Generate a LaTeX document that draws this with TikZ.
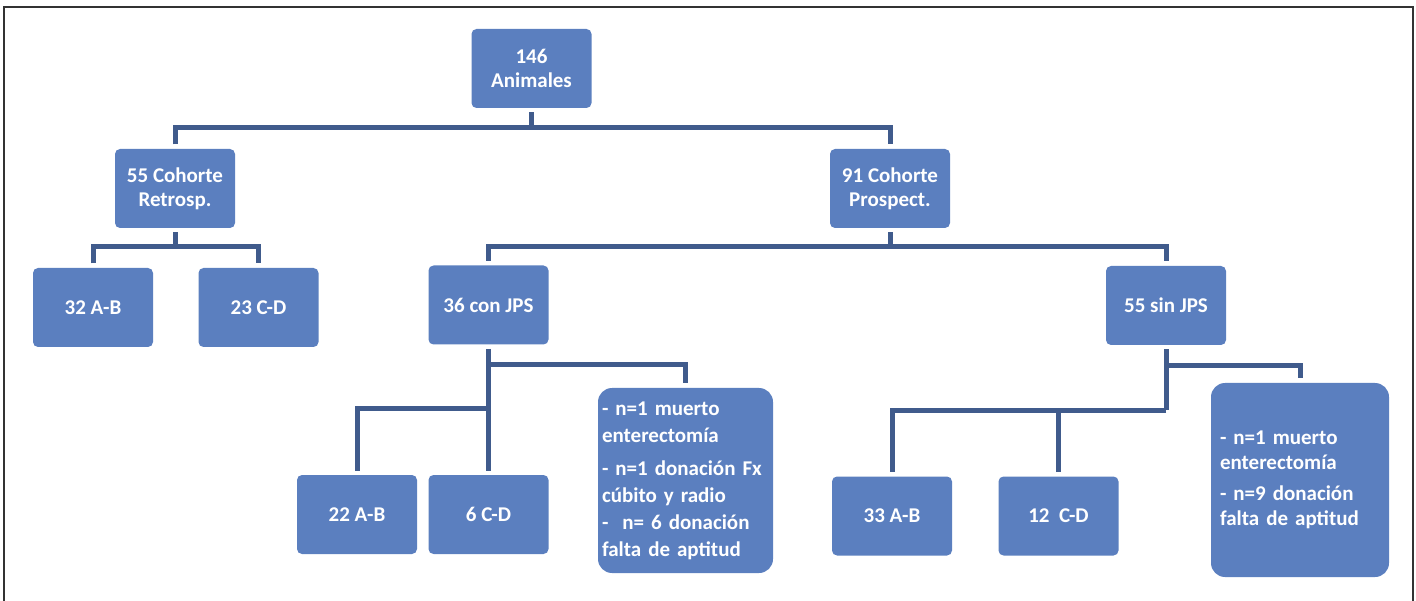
\documentclass[tikz,border=0pt]{standalone}
\usepackage{fontspec}
\setmainfont{Carlito}
\definecolor{boxblue}{HTML}{5B7FBF}
\definecolor{connblue}{HTML}{405B8C}
\definecolor{framegray}{HTML}{333333}
\begin{document}
\begin{tikzpicture}[x=1pt,y=-1pt,
  box/.style={fill=boxblue, rounded corners=5pt, text=white,
    font=\fontsize{21}{24}\selectfont\bfseries, align=center,
    minimum width=120pt, minimum height=79pt, inner sep=2pt, outer sep=4.5pt},
  note/.style={box, rounded corners=14pt, align=left,
    font=\fontsize{21}{27}\selectfont\bfseries},
  conn/.style={draw=connblue, line width=5pt, line join=miter}]
\useasboundingbox (0,0) rectangle (1416,601);
\draw[line width=1.3pt, draw=framegray] (4,602) -- (4,7) -- (1413,7) -- (1413,602);

% nodes
\node[box] (root) at (531.5,68.5) {146\\Animales};
\node[box] (retro) at (175,188.5) {55 Cohorte\\Retrosp.};
\node[box] (prosp) at (890,188.5) {91 Cohorte\\Prospect.};
\node[box] (ab1) at (93,307.5) {32 A-B};
\node[box] (cd1) at (258.5,307.5) {23 C-D};
\node[box] (con) at (488.5,305) {36 con JPS};
\node[box] (sin) at (1166,305.5) {55 sin JPS};
\node[box] (ab2) at (357,514.5) {22 A-B};
\node[box] (cd2) at (488.5,514.5) {6 C-D};
\node[box] (ab3) at (892,516) {33 A-B};
\node[box] (cd3) at (1058.5,516) {12\ \ C-D};
\node[note, minimum width=175pt, minimum height=185pt, text width=167pt, inner xsep=4pt]
  (note1) at (685.5,480.5)
  {- n=1 muerto\\enterectomía\\[6pt]- n=1 donación Fx\\cúbito y radio\\-\ \ n= 6 donación\\falta de aptitud};
\node[note, minimum width=178pt, minimum height=194pt, text width=160pt, inner xsep=9pt,
  font=\fontsize{21}{25}\selectfont\bfseries]
  (note2) at (1300,480)
  {- n=1 muerto\\enterectomía\\[6pt]- n=9 donación\\falta de aptitud};

% bar coordinates
\coordinate (b1) at (531.5,128);
\coordinate (b2) at (175,247);
\coordinate (b3) at (890,247);
\coordinate (b4) at (488.5,365);
\coordinate (b5) at (488.5,408);
\coordinate (b6) at (1166,410);
\coordinate (b7) at (1166,366);

% connectors
\draw[conn] (root.south) -- (b1);
\draw[conn] (retro.north) |- (b1) -| (prosp.north);
\draw[conn] (retro.south) -- (b2);
\draw[conn] (ab1.north) |- (b2) -| (cd1.north);
\draw[conn] (prosp.south) -- (b3);
\draw[conn] (con.north) |- (b3) -| (sin.north);
\draw[conn] (con.south) -- (cd2.north);
\draw[conn] (b4) -| (note1.north);
\draw[conn] (b5) -| (ab2.north);
\draw[conn] (sin.south) -- (b6);
\draw[conn] (b6) -| (ab3.north);
\draw[conn] (cd3.north) -- (cd3.north |- b6);
\draw[conn] (b7) -| (note2.north);
\end{tikzpicture}
\end{document}
